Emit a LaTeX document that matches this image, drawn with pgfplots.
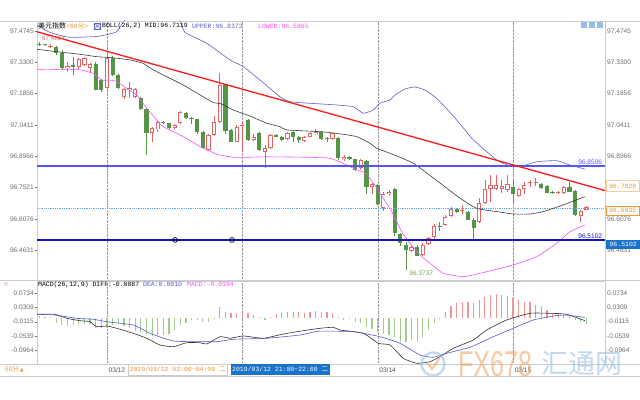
\documentclass[border=0pt]{standalone}
\usepackage{pgfplots}
\usepackage{pgfplotstable}
\pgfplotsset{compat=1.18}
\usepackage{fontspec}
\setmainfont{Liberation Sans}
\newfontfamily\mono{Liberation Mono}
\newfontfamily\cjk{Noto Sans CJK SC}
\newfontfamily\dejavu{DejaVu Sans}
\definecolor{cred}{RGB}{228,100,100}
\definecolor{cgreen}{RGB}{84,150,70}
\definecolor{midc}{RGB}{60,60,60}
\definecolor{upc}{RGB}{95,95,205}
\definecolor{lowc}{RGB}{250,80,250}
\definecolor{trend}{RGB}{255,25,25}
\definecolor{hlone}{RGB}{85,85,250}
\definecolor{hltwo}{RGB}{20,20,190}
\definecolor{curc}{RGB}{90,170,250}
\definecolor{labgray}{RGB}{110,110,110}
\definecolor{framegray}{RGB}{205,205,205}
\definecolor{gridgray}{RGB}{150,150,150}
\definecolor{hred}{RGB}{238,150,150}
\definecolor{hgreen}{RGB}{160,205,140}
\definecolor{diffc}{RGB}{50,50,50}
\definecolor{deac}{RGB}{90,90,215}
\definecolor{orangec}{RGB}{240,150,50}
\definecolor{boxblue}{RGB}{25,115,200}
\definecolor{wmorange}{RGB}{245,165,100}
\definecolor{wmblue}{RGB}{150,190,230}
\newcommand\tl{\fontsize{6.6}{7}\selectfont}
\newcommand\ml{\mono\fontsize{6.5}{7}\selectfont}

\pgfplotstableread{
x o h l c
-12 97.416 97.4234 97.405 97.412
-11 97.412 97.415 97.405 97.408
-9 97.399 97.404 97.365 97.371
-8 97.371 97.387 97.294 97.302
-6 97.316 97.356 97.271 97.308
-2 97.321 97.330 97.200 97.202
-1 97.250 97.255 97.195 97.200
1 97.349 97.360 97.268 97.271
2 97.271 97.275 97.205 97.210
6 97.164 97.170 97.110 97.113
7 97.113 97.120 96.902 97.002
10 97.055 97.060 97.045 97.050
11 97.049 97.050 97.020 97.026
14 97.097 97.100 97.070 97.074
15 97.073 97.077 97.045 97.069
16 97.067 97.070 97.000 97.010
17 97.010 97.015 96.930 96.933
21 97.225 97.230 97.000 97.013
22 97.018 97.022 96.960 96.964
25 97.064 97.070 96.965 96.972
27 97.002 97.010 96.920 96.926
30 96.995 96.998 96.984 96.987
31 96.987 96.990 96.968 96.972
33 97.010 97.015 96.960 96.987
34 96.987 96.990 96.958 96.972
38 97.010 97.015 96.970 96.975
39 96.980 96.985 96.960 96.976
41 96.982 96.985 96.880 96.887
43 96.894 96.897 96.880 96.884
44 96.882 96.885 96.830 96.833
46 96.875 96.880 96.720 96.756
48 96.764 96.770 96.670 96.676
51 96.744 96.750 96.530 96.541
52 96.538 96.540 96.480 96.495
53 96.487 96.500 96.3737 96.464
55 96.479 96.485 96.435 96.438
59 96.576 96.595 96.550 96.572
62 96.652 96.656 96.636 96.641
64 96.641 96.645 96.600 96.603
65 96.603 96.610 96.510 96.564
72 96.756 96.787 96.680 96.721
77 96.767 96.772 96.745 96.749
78 96.759 96.765 96.725 96.728
79 96.733 96.735 96.720 96.726
82 96.753 96.779 96.730 96.733
83 96.738 96.742 96.620 96.625
}\beartab

\pgfplotstableread{
x o h l c
-10 97.403 97.414 97.398 97.407
-7 97.302 97.333 97.287 97.313
-5 97.307 97.350 97.300 97.344
-4 97.318 97.355 97.312 97.349
-3 97.305 97.328 97.279 97.322
0 97.210 97.379 97.205 97.349
3 97.168 97.210 97.160 97.205
4 97.200 97.240 97.164 97.210
5 97.171 97.210 97.165 97.205
8 97.002 97.030 96.964 97.025
9 97.020 97.060 97.010 97.056
12 97.026 97.045 97.020 97.041
13 97.049 97.105 97.045 97.099
18 96.926 97.000 96.920 96.995
19 96.995 97.080 96.990 97.056
20 97.056 97.279 97.050 97.225
23 96.964 97.040 96.960 97.033
24 97.035 97.056 96.918 97.040
26 96.972 97.000 96.965 96.987
28 96.918 96.950 96.842 96.933
29 96.933 97.000 96.930 96.995
32 96.975 97.010 96.970 97.005
35 96.968 96.990 96.960 96.984
36 96.987 97.008 96.984 97.002
37 96.998 97.020 96.995 97.010
40 96.975 97.005 96.970 97.002
42 96.882 96.900 96.875 96.894
45 96.841 96.886 96.835 96.879
47 96.753 96.775 96.720 96.767
49 96.656 96.730 96.645 96.721
50 96.722 96.740 96.715 96.733
54 96.459 96.480 96.455 96.476
56 96.441 96.495 96.437 96.487
57 96.492 96.525 96.488 96.518
58 96.522 96.585 96.515 96.575
60 96.579 96.625 96.575 96.618
61 96.621 96.660 96.615 96.652
63 96.646 96.670 96.630 96.650
66 96.594 96.704 96.590 96.679
67 96.679 96.787 96.675 96.745
68 96.744 96.810 96.687 96.764
69 96.745 96.810 96.740 96.764
70 96.744 96.787 96.725 96.759
71 96.741 96.810 96.730 96.768
73 96.713 96.750 96.710 96.744
74 96.744 96.778 96.720 96.764
75 96.772 96.787 96.755 96.778
76 96.773 96.797 96.760 96.777
80 96.728 96.735 96.720 96.732
81 96.726 96.757 96.722 96.753
84 96.621 96.648 96.594 96.644
85 96.650 96.666 96.648 96.6635
}\bulltab

\pgfplotsset{
  common/.style={scale only axis, width=568bp, xmin=-12.41, xmax=88.30,
    axis line style={draw=framegray}, tick align=outside, major tick length=2bp,
    ytick style={draw=labgray}, xtick style={draw=none},
    yticklabel style={font=\tl, text=labgray, inner sep=1bp},
    xmajorgrids, grid style={densely dotted, draw=gridgray}, xtick={0,24,48,72}},
  pricepanel/.style={common, at={(37bp,120bp)}, anchor=south west, height=259bp,
    ymin=96.3254, ymax=97.5206},
  macdpanel/.style={common, at={(37bp,36bp)}, anchor=south west, height=83bp,
    ymin=-0.1383, ymax=0.1102,
    ytick={-0.0964,-0.0539,-0.0115,0.0309,0.0734},
    yticklabels={-0.0964,-0.0539,-0.0115,0.0309,0.0734}},
  wick/.style={draw=none, mark=none, forget plot, error bars/.cd, y dir=plus, y explicit, error mark=none,
    error bar style={draw=#1, line width=0.7bp}},
  body/.style 2 args={draw=none, mark=none, forget plot, error bars/.cd, y dir=plus, y explicit, error mark=none,
    error bar style={draw=#1, line width=#2}},
}

\begin{document}
\begin{tikzpicture}
\fill[white] (0,0) rectangle (640bp,400bp);
\useasboundingbox (0,0) rectangle (640bp,400bp);

% ---------------- price panel ----------------
\begin{axis}[pricepanel, xticklabels={}, ytick pos=left,
    ytick={96.4631,96.6076,96.7521,96.8966,97.0411,97.1856,97.3300,97.4745},
    yticklabels={96.4631,96.6076,96.7521,96.8966,97.0411,97.1856,97.3300,97.4745}]
% wicks
\addplot[wick=cgreen] table[x=x, y=l, y error expr=\thisrow{h}-\thisrow{l}] {\beartab};
\addplot[wick=cred] table[x=x, y=l, y error expr=\thisrow{h}-\thisrow{l}] {\bulltab};
% bodies
\addplot[body={cgreen}{4.2bp}] table[x=x, y=c, y error expr={max(\thisrow{o}-\thisrow{c},0.0045)}] {\beartab};
\addplot[body={cred}{4.2bp}] table[x=x, y=o, y error expr={max(\thisrow{c}-\thisrow{o},0.0045)}] {\bulltab};
\addplot[body={white}{2.4bp}] table[x=x, y expr=\thisrow{o}+0.0042, y error expr={max(\thisrow{c}-\thisrow{o}-0.0084,0)}] {\bulltab};

% current price dotted line
\addplot[curc, densely dotted, line width=0.8bp] coordinates {(-12.41,96.657) (88.3,96.657)};

% Bollinger MID
\addplot[midc, line width=0.6bp, smooth, tension=0.3] coordinates {
(-12.41,97.390) (-8.92,97.379) (-4.79,97.367) (-1.83,97.356) (-0.05,97.353) (1.72,97.349) (4.08,97.341)
(6.44,97.325) (7.62,97.304) (9.40,97.279) (13.53,97.225) (18.85,97.144) (20.04,97.141) (22.39,97.110)
(25.35,97.082) (28.32,97.049) (30.67,97.033) (31.86,97.018) (37.77,97.010) (40.73,97.002) (44.27,96.987)
(46.63,96.956) (47.82,96.933) (50.18,96.910) (54.31,96.864) (59.04,96.773) (62.59,96.703) (65.55,96.656)
(69.10,96.641) (72.04,96.630) (75.00,96.630) (77.36,96.641) (80.90,96.672) (84.75,96.710)};
% Bollinger UPPER
\addplot[upc, line width=0.6bp, smooth, tension=0.3] coordinates {
(-12.41,97.500) (-10.11,97.468) (-7.15,97.447) (-5.37,97.445) (-2.71,97.448) (-1.24,97.451) (1.72,97.471)
(3.19,97.5253) (7.62,97.594) (11.17,97.594) (12.94,97.525) (13.83,97.468) (17.68,97.418) (21.81,97.341)
(24.17,97.310) (27.13,97.248) (30.67,97.171) (32.45,97.148) (37.77,97.138) (40.73,97.133) (43.67,97.125)
(45.44,97.095) (47.22,97.110) (48.40,97.141) (50.18,97.156) (51.06,97.179) (52.84,97.207) (54.61,97.216)
(56.38,97.202) (58.16,97.170) (59.93,97.124) (61.70,97.073) (63.48,97.018) (64.95,96.972) (69.10,96.879)
(71.45,96.852) (73.23,96.848) (76.19,96.871) (79.73,96.876) (82.09,96.856) (84.75,96.837)};
% Bollinger LOWER
\addplot[lowc, line width=0.6bp, smooth, tension=0.3] coordinates {
(-12.41,97.298) (-10.69,97.295) (-7.75,97.298) (-4.79,97.295) (-2.43,97.279) (-0.94,97.248) (0.53,97.248)
(1.72,97.241) (3.49,97.210) (5.27,97.179) (7.04,97.118) (8.81,97.064) (9.98,97.033) (13.53,96.987)
(16.49,96.941) (19.45,96.906) (22.39,96.892) (25.35,96.892) (28.32,96.894) (34.80,96.892) (39.54,96.887)
(42.50,96.856) (44.27,96.833) (46.05,96.815) (48.40,96.726) (50.48,96.641) (52.25,96.548) (53.72,96.495)
(55.50,96.441) (57.27,96.4025) (59.63,96.356) (63.18,96.341) (66.13,96.356) (72.04,96.395) (76.19,96.433)
(79.73,96.495) (82.09,96.548) (84.75,96.579)};

% horizontal levels
\addplot[hlone, line width=1.4bp] coordinates {(-12.41,96.8506) (88.3,96.8506)};
\addplot[hltwo, line width=1.1bp] coordinates {(-12.41,96.5102) (88.3,96.5102)};
% trend line
\addplot[trend, line width=1.3bp] coordinates {(-12.41,97.471) (88.30,96.738)};
% handles on the support line
\addplot[only marks, mark=o, mark size=2.4bp, black, mark options={fill=white, line width=0.7bp}] coordinates {(12.06,96.5102) (22.16,96.5102)};

\node[anchor=south east, inner sep=1bp, text=hlone, font=\tl] at (axis cs:88.0,96.8506) {96.8506};
\node[anchor=south east, inner sep=1bp, text=hltwo, font=\tl] at (axis cs:88.0,96.5102) {96.5102};
\node[anchor=south, inner sep=1bp, text=cred, font=\fontsize{6.2}{7}\selectfont] at (axis cs:-9.5,97.4234) {97.4234};
\node[anchor=north west, inner sep=1bp, text={rgb,255:red,120;green,165;blue,90}, font=\tl] at (axis cs:53.4,96.3737) {96.3737};
\end{axis}

% right labels of the price panel (96.7521 is hidden by the trend value box)
\begin{axis}[pricepanel, axis x line=none, axis y line*=right, axis line style={draw=none}, xmajorgrids=false,
  major tick length=0bp, yticklabel style={inner sep=2bp},
  ytick={96.4631,96.6076,96.8966,97.0411,97.1856,97.3300,97.4745},
  yticklabels={96.4631,96.6076,96.8966,97.0411,97.1856,97.3300,97.4745}]
\addplot[draw=none] coordinates {(0,97)};
\end{axis}

% ---------------- MACD panel ----------------
\begin{axis}[macdpanel, ytick pos=left, xticklabels={03/12,,03/14,03/15},
  xticklabel style={anchor=north west, inner sep=1.5bp, font=\fontsize{6.6}{7}\selectfont, text={rgb,255:red,80;green,80;blue,80}}]
\addplot[ycomb, draw=hred, line width=1.2bp, mark=none] coordinates {
(-12,0.005) (-11,0.003) (-10,0.003) (20,0.033) (21,0.018) (22,0.015) (23,0.015) (24,0.015) (25,0.013)
(26,0.008) (27,0.003) (29,0.003) (30,0.010) (31,0.013) (32,0.016) (33,0.016) (34,0.018) (35,0.015) (36,0.018)
(37,0.021) (38,0.016) (39,0.018) (40,0.015) (41,0.001) (60,0.018) (61,0.035) (62,0.043) (63,0.046) (64,0.046)
(65,0.043) (66,0.053) (67,0.063) (68,0.068) (69,0.071) (70,0.068) (71,0.065) (72,0.058) (73,0.053) (74,0.048)
(75,0.046) (76,0.038) (77,0.035) (78,0.023) (79,0.015) (80,0.013) (81,0.008) (82,0.005)};
\addplot[ycomb, draw=hgreen, line width=1.2bp, mark=none] coordinates {
(-9,-0.017) (-8,-0.022) (-7,-0.025) (-6,-0.022) (-5,-0.019) (-4,-0.019) (-3,-0.019) (-2,-0.032) (-1,-0.032)
(0,-0.027) (1,-0.022) (2,-0.019) (3,-0.025) (4,-0.032) (5,-0.040) (6,-0.042) (7,-0.047) (8,-0.055) (9,-0.050)
(10,-0.050) (11,-0.047) (12,-0.037) (13,-0.022) (14,-0.017) (15,-0.007) (16,-0.007) (17,-0.012) (18,-0.012)
(19,-0.003) (28,-0.007) (42,-0.007) (43,-0.005) (44,-0.012) (45,-0.017) (46,-0.029) (47,-0.035) (48,-0.042)
(49,-0.047) (50,-0.052) (51,-0.057) (52,-0.072) (53,-0.072) (54,-0.067) (55,-0.072) (56,-0.057) (57,-0.037)
(58,-0.017) (59,-0.005) (83,-0.007) (84,-0.012) (85,-0.0194)};
% DIFF
\addplot[diffc, line width=0.6bp, smooth, tension=0.3] coordinates {
(-12.41,0.0105) (-9.22,0.0105) (-7.15,-0.0015) (-4.79,-0.0086) (-3.01,-0.0116) (-1.83,-0.0266) (-0.05,-0.0245)
(1.72,-0.0314) (4.66,-0.0464) (7.04,-0.0613) (9.40,-0.0814) (11.76,-0.0865) (14.13,-0.0745) (16.49,-0.0745)
(17.68,-0.0784) (20.04,-0.0565) (21.81,-0.0613) (24.17,-0.0544) (27.71,-0.0613) (31.26,-0.0485) (34.80,-0.0386)
(37.77,-0.0314) (40.12,-0.0284) (41.31,-0.0365) (45.44,-0.0464) (48.10,-0.0763) (50.18,-0.0814) (52.54,-0.1212)
(54.91,-0.1362) (57.27,-0.1314) (59.04,-0.1164) (61.40,-0.0913) (64.95,-0.0664) (67.32,-0.0365) (70.87,-0.0065)
(75.00,0.0135) (78.55,0.0135) (81.51,0.0105) (84.75,-0.0087)};
% DEA
\addplot[deac, line width=0.6bp, smooth, tension=0.3] coordinates {
(-12.41,0.0105) (-9.22,0.0084) (-5.37,-0.0015) (-2.43,-0.0044) (-0.05,-0.0116) (4.66,-0.0215) (7.62,-0.0464)
(11.76,-0.0694) (16.49,-0.0715) (19.45,-0.0715) (22.39,-0.0643) (28.32,-0.0613) (34.22,-0.0515) (37.6,-0.0400)
(43.67,-0.0416) (48.40,-0.0565) (51.95,-0.0763) (55.50,-0.1113) (57.86,-0.1182) (60.23,-0.1062) (64.36,-0.0883)
(68.49,-0.0565) (72.04,-0.0314) (75.59,-0.0065) (79.13,0.0054) (81.51,0.0084) (84.75,0.0010)};
\end{axis}

\begin{axis}[macdpanel, axis x line=none, axis y line*=right, axis line style={draw=none}, xmajorgrids=false,
  major tick length=0bp, yticklabel style={inner sep=2bp}]
\addplot[draw=none] coordinates {(0,0)};
\end{axis}

% ---------------- frame lines ----------------
\draw[framegray, line width=0.5bp] (0,379bp) -- (640bp,379bp);
\draw[framegray, line width=0.5bp] (0,119.5bp) -- (640bp,119.5bp);
\draw[framegray, line width=0.5bp] (0,36bp) -- (640bp,36bp);
\draw[framegray, line width=0.5bp] (0,24bp) -- (640bp,24bp);

% ---------------- legends ----------------
\node[anchor=west, inner sep=0] at (38bp,374bp) {\cjk\fontsize{7}{8}\selectfont 美元指数};
\node[anchor=west, inner sep=0, text=orangec] at (66bp,374bp) {\ml <60{\cjk 分}>};
\draw[upc, line width=0.5bp, fill=white] (94.5bp,371bp) rectangle (100.5bp,377bp);
\draw[upc, line width=0.5bp] (94.5bp,371bp) -- (100.5bp,377bp) (94.5bp,377bp) -- (100.5bp,371bp);
\node[anchor=west, inner sep=0] at (102bp,374bp) {\ml BOLL(26,2) MID:96.7119};
\node[anchor=west, inner sep=0, text=upc] at (192bp,374bp) {\ml UPPER:96.8372};
\node[anchor=west, inner sep=0, text=lowc] at (258bp,374bp) {\ml LOWER:96.5865};
\foreach \xx in {581,589,597} {\fill[wmblue] (\xx bp,372bp) rectangle ++(6bp,6bp);}

\node[anchor=west, inner sep=0] at (38bp,115.5bp) {\ml MACD(26,12,9) DIFF:-0.0087};
\node[anchor=west, inner sep=0, text=deac] at (143bp,115.5bp) {\ml DEA:0.0010};
\node[anchor=west, inner sep=0, text=lowc] at (187bp,115.5bp) {\ml MACD:-0.0194};
\node[text=cred, inner sep=0] at (6bp,115.5bp) {\dejavu\fontsize{6}{6}\selectfont ☼};

% ---------------- right value boxes ----------------
\node[anchor=west, draw=orangec!50, fill=white, text=orangec, inner sep=1.5bp, minimum width=33bp, minimum height=11bp] at (606bp,214bp) {\ml 96.7820};
\node[anchor=west, draw=orangec, fill=white, text=orangec, inner sep=1.5bp, minimum width=33bp, minimum height=9bp] at (606bp,189.5bp) {\ml 96.6635};
\node[anchor=west, fill=boxblue, text=white, inner sep=1.5bp, minimum width=34bp, minimum height=9bp] at (606bp,155.5bp) {\ml 96.5102};

% ---------------- bottom row ----------------
\node[anchor=west, inner sep=0, text=orangec] at (5bp,31bp) {\cjk\fontsize{6.5}{7}\selectfont 60分\,{\dejavu\fontsize{5}{6}\selectfont ▲}};
\node[anchor=west, draw=framegray, fill=white, text=orangec, inner sep=1.5bp, minimum height=11bp] at (128bp,30.5bp) {\ml 2019/03/12 03:00\textasciitilde04:00 {\cjk 二}};
\node[anchor=west, fill=boxblue, text=white, inner sep=1.5bp, minimum height=11bp] at (230.5bp,30.5bp) {\ml 2019/03/12 21:00\textasciitilde22:00 {\cjk 二}};

% ---------------- watermark ----------------
\draw[wmblue, line width=2.5bp, opacity=0.55] (433bp,36bp) circle (11.5bp);
\draw[wmorange, line width=2bp, opacity=0.6] (427bp,38bp) -- (432bp,31bp) -- (440bp,42bp);
\node[anchor=west, inner sep=0, text=wmorange, opacity=0.6, xscale=0.7] at (458bp,36bp) {\fontsize{36}{36}\selectfont FX678};
\node[anchor=west, inner sep=0, text=wmblue, opacity=0.6] at (541bp,36bp) {\cjk\fontsize{27}{27}\selectfont 汇通网};
\end{tikzpicture}
\end{document}
